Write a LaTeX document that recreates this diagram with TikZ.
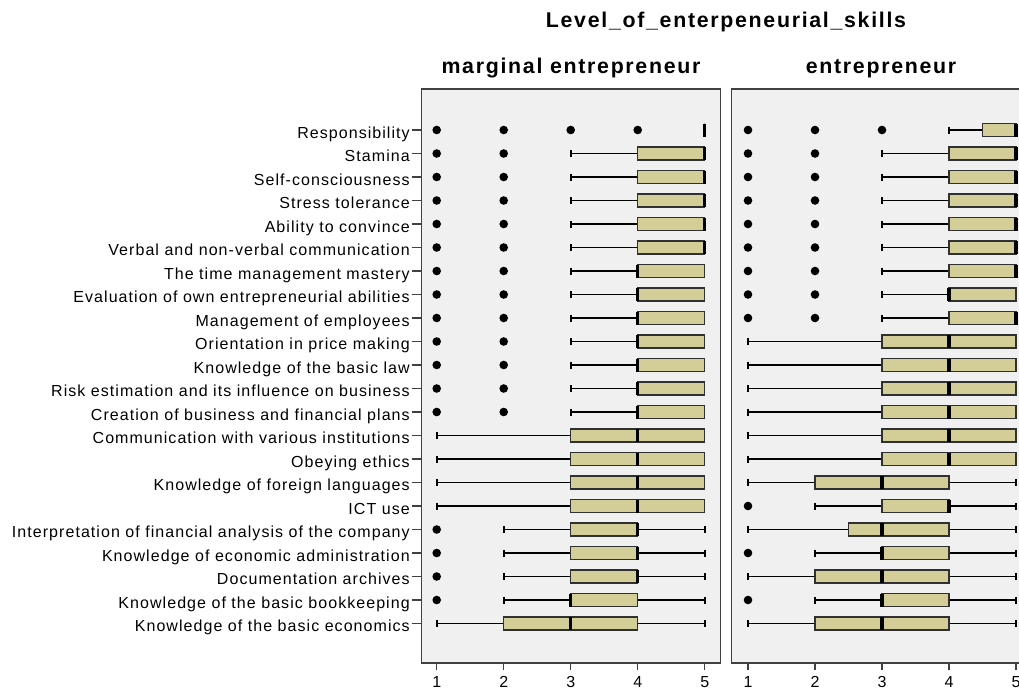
\documentclass[tikz,border=0pt]{standalone}
\usepackage{fontspec}
\setmainfont{Liberation Sans}
\newfontfamily\labelfont{Liberation Sans}[LetterSpace=6.6]
\newfontfamily\headfont{Liberation Sans}[LetterSpace=8]

\definecolor{panelbg}{HTML}{F0F0F0}
\definecolor{panelln}{HTML}{404040}
\definecolor{boxfill}{HTML}{D3CE97}
\definecolor{boxline}{HTML}{303030}

% one px of the chart = 0.75pt, y runs downwards
\newcommand\rowy[1]{130+23.5*#1}
% outlier dot: panel origin, row, value
\newcommand\dt[3]{%
  \pgfmathsetmacro\yy{\rowy{#2}}%
  \fill[black] ({#1+(#3-1)*67},\yy) circle[radius=4.3];}
% box plot: panel origin, row, low whisker, Q1, median, Q3, high whisker
\newcommand\bx[7]{%
  \pgfmathsetmacro\yy{\rowy{#2}}%
  \pgfmathsetmacro\xa{#1+(#3-1)*67}%
  \pgfmathsetmacro\xb{#1+(#4-1)*67}%
  \pgfmathsetmacro\xm{#1+(#5-1)*67}%
  \pgfmathsetmacro\xc{#1+(#6-1)*67}%
  \pgfmathsetmacro\xd{#1+(#7-1)*67}%
  \ifdim #3pt<#4pt
    \draw[whisk] (\xa,\yy) -- (\xb,\yy);
    \draw[wcap] (\xa,\yy-3.5) -- (\xa,\yy+3.5);
  \fi
  \ifdim #6pt<#7pt
    \draw[whisk] (\xc,\yy) -- (\xd,\yy);
    \draw[wcap] (\xd,\yy-3.5) -- (\xd,\yy+3.5);
  \fi
  \draw[boxst] (\xb,\yy-6.5) rectangle (\xc,\yy+6.5);
  \draw[med] (\xm,\yy-6.5) -- (\xm,\yy+6.5);}

\begin{document}
\begin{tikzpicture}[x=0.75pt,y=-0.75pt,
  panel/.style={fill=panelbg,draw=panelln,line width=1.1pt},
  whisk/.style={draw=black,line width=1pt},
  wcap/.style={draw=black,line width=1.6pt},
  boxst/.style={fill=boxfill,draw=boxline,line width=0.9pt},
  med/.style={draw=black,line width=2.3pt},
  axtick/.style={draw=panelln,line width=0.8pt},
  lab/.style={anchor=base east,inner sep=0pt,font=\labelfont\fontsize{12}{14}\selectfont},
  ticklab/.style={anchor=base,inner sep=0pt,font=\labelfont\fontsize{12}{14}\selectfont},
  head/.style={anchor=base,inner sep=0pt,font=\headfont\bfseries\fontsize{16}{18}\selectfont}]
\useasboundingbox (0,0) rectangle (1019,690);
\clip (0,0) rectangle (1019,690);

% titles
\node[head] (title) at (726,27.5) {Level\_of\_enterpeneurial\_skills};
\node[head] (hleft) at (571,73.5) {marginal entrepreneur};
\node[head] (hright) at (881,73.5) {entrepreneur};

% panels
\draw[panel] (421.5,89) rectangle (720.5,663);
\draw[panel] (731.7,89) rectangle (1031,663);

% category labels with their ticks
\foreach \t [count=\i from 0] in {Responsibility,Stamina,Self-consciousness,Stress tolerance,Ability to convince,Verbal and non-verbal communication,The time management mastery,Evaluation of own entrepreneurial abilities,Management of employees,Orientation in price making,Knowledge of the basic law,Risk estimation and its influence on business,Creation of business and financial plans,Communication with various institutions,Obeying ethics,Knowledge of foreign languages,ICT use,Interpretation of financial analysis of the company,Knowledge of economic administration,Documentation archives,Knowledge of the basic bookkeeping,Knowledge of the basic economics}{
  \pgfmathsetmacro\yy{\rowy{\i}}
  \node[lab] (lab\i) at (410,\yy+8.3) {\t};
  \draw[axtick] (411.5,\yy) -- (421.5,\yy);
}

% value axes
\foreach \v in {1,...,5}{
  \draw[axtick] ({436.7+(\v-1)*67},663) -- ({436.7+(\v-1)*67},670);
  \node[ticklab] (tl\v) at ({436.7+(\v-1)*67},687.5) {\v};
  \draw[axtick] ({748+(\v-1)*67},663) -- ({748+(\v-1)*67},670);
  \node[ticklab] (tr\v) at ({748+(\v-1)*67},687.5) {\v};
}

% ---- marginal entrepreneur ----
\def\P{436.7}
\dt\P{0}{1}\dt\P{0}{2}\dt\P{0}{3}\dt\P{0}{4}
\bx\P{0}{5}{5}{5}{5}{5}
\foreach \r in {1,...,5}{\dt\P{\r}{1}\dt\P{\r}{2}\bx\P{\r}{3}{4}{5}{5}{5}}
\foreach \r in {6,...,12}{\dt\P{\r}{1}\dt\P{\r}{2}\bx\P{\r}{3}{4}{4}{5}{5}}
\foreach \r in {13,...,16}{\bx\P{\r}{1}{3}{4}{5}{5}}
\foreach \r in {17,18,19}{\dt\P{\r}{1}\bx\P{\r}{2}{3}{4}{4}{5}}
\dt\P{20}{1}\bx\P{20}{2}{3}{3}{4}{5}
\bx\P{21}{1}{2}{3}{4}{5}

% ---- entrepreneur ----
\def\P{748}
\dt\P{0}{1}\dt\P{0}{2}\dt\P{0}{3}
\bx\P{0}{4}{4.5}{5}{5}{5}
\foreach \r in {1,...,6,8}{\dt\P{\r}{1}\dt\P{\r}{2}\bx\P{\r}{3}{4}{5}{5}{5}}
\dt\P{7}{1}\dt\P{7}{2}\bx\P{7}{3}{4}{4}{5}{5}
\foreach \r in {9,...,14}{\bx\P{\r}{1}{3}{4}{5}{5}}
\bx\P{15}{1}{2}{3}{4}{5}
\dt\P{16}{1}\bx\P{16}{2}{3}{4}{4}{5}
\bx\P{17}{1}{2.5}{3}{4}{5}
\dt\P{18}{1}\bx\P{18}{2}{3}{3}{4}{5}
\bx\P{19}{1}{2}{3}{4}{5}
\dt\P{20}{1}\bx\P{20}{2}{3}{3}{4}{5}
\bx\P{21}{1}{2}{3}{4}{5}
\end{tikzpicture}
\end{document}
